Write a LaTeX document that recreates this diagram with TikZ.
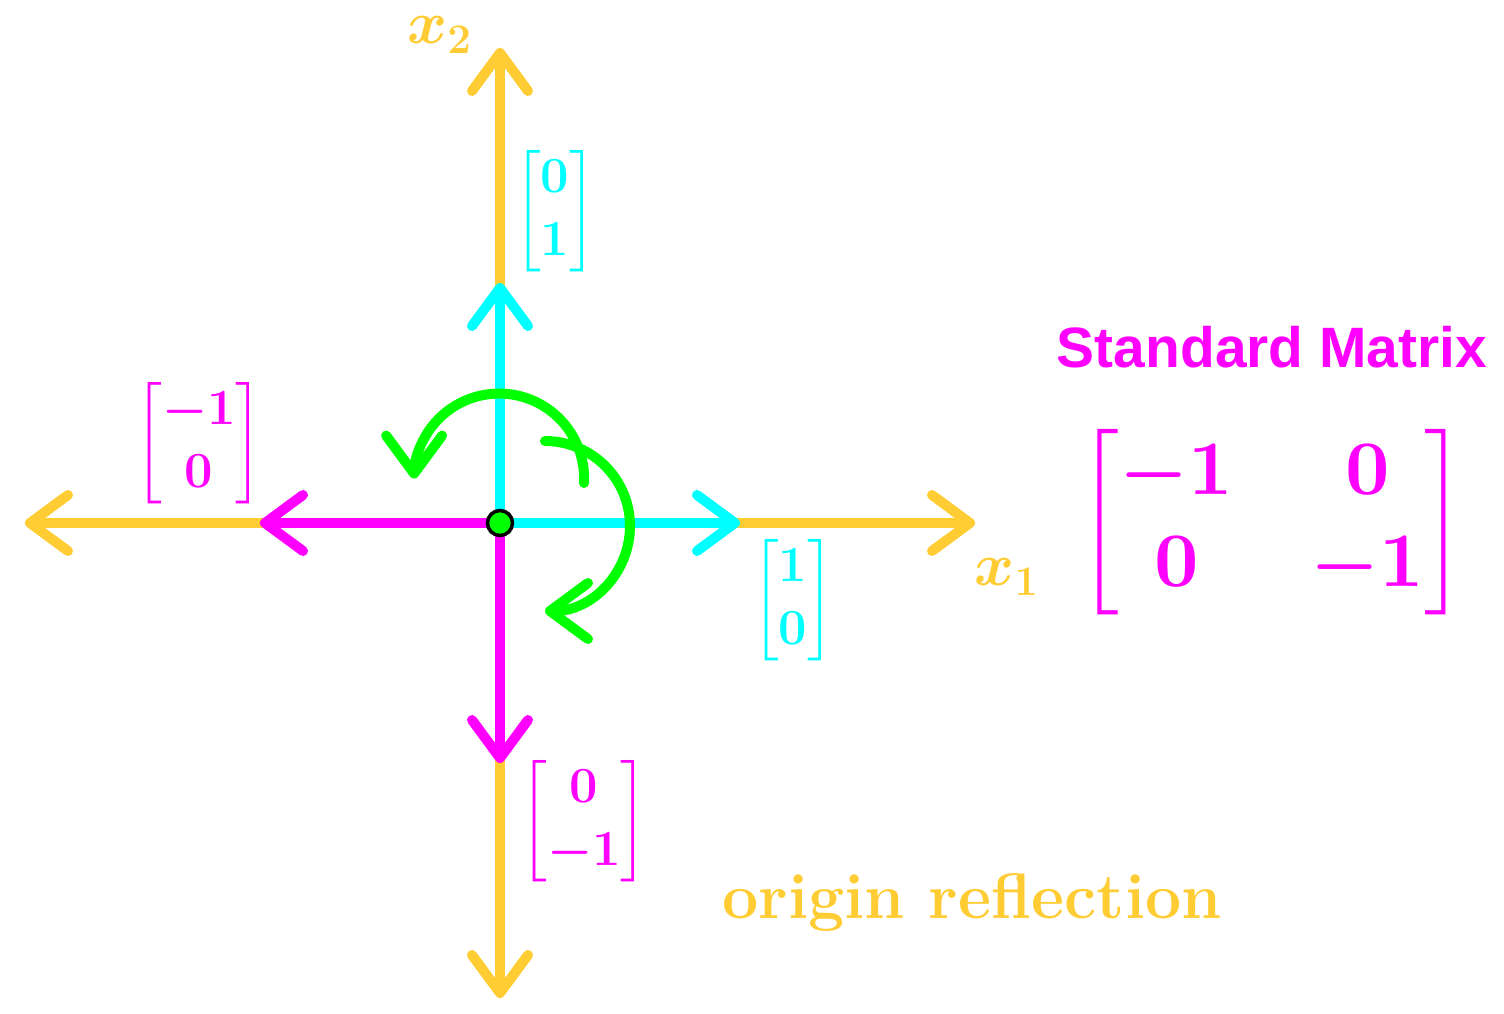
\RequirePackage{fix-cm}
\documentclass[tikz,border=0pt]{standalone}
\usepackage{amsmath}
\usepackage{graphicx}
\usepackage{fontspec}
\newfontfamily\headfont{Liberation Sans}
\usetikzlibrary{arrows.meta}

\definecolor{axisyellow}{RGB}{255,204,51}
\definecolor{vcyan}{RGB}{0,255,255}
\definecolor{vmagenta}{RGB}{255,0,255}
\definecolor{vgreen}{RGB}{0,255,0}

\begin{document}
\begin{tikzpicture}[
    >={Straight Barb[length=3.8mm,width=5.6mm,round]},
    axisline/.style={line width=0.1cm, axisyellow, <->, line cap=round},
    vec/.style={line width=0.1cm, ->, line cap=round},
    greenarc/.style={line width=0.1cm, vgreen, ->, line cap=round},
    lbl/.style={font=\Large\boldmath, inner sep=0pt},
  ]
    \useasboundingbox (-5,-4.9) rectangle (10.04,5.23);

    % Points on the axes
    \coordinate (O)  at (0,0);
    \coordinate (xl) at (-4.75,0);
    \coordinate (xr) at (4.75,0);
    \coordinate (yb) at (0,-4.75);
    \coordinate (yt) at (0,4.75);
    \coordinate (e1) at (2.4,0);
    \coordinate (e2) at (0,2.4);
    \coordinate (f1) at (-2.4,0);
    \coordinate (f2) at (0,-2.4);

    % --- Axes ---
    \draw[axisline] (xl) -- (xr);
    \draw[axisline] (yb) -- (yt);
    \node[axisyellow, font=\LARGE\boldmath] (x1) at (5.07,-0.54) {$x_1$};
    \node[axisyellow, font=\LARGE\boldmath] (x2) at (-0.60,4.88) {$x_2$};

    % --- Basis vectors (cyan) and their images (magenta) ---
    \draw[vec, vcyan]    (O) -- (e1);
    \draw[vec, vcyan]    (O) -- (e2);
    \draw[vec, vmagenta] (O) -- (f1);
    \draw[vec, vmagenta] (O) -- (f2);

    \node[lbl, vcyan]    (v1) at (2.93,-0.77) {$\begin{bmatrix}1\\0\end{bmatrix}$};
    \node[lbl, vcyan]    (v2) at (0.55,3.12)  {$\begin{bmatrix}0\\1\end{bmatrix}$};
    \node[lbl, vmagenta] (w1) at (-3.01,0.80) {$\begin{bmatrix}-1\\0\end{bmatrix}$};
    \node[lbl, vmagenta] (w2) at (0.84,-2.98) {$\begin{bmatrix}0\\-1\end{bmatrix}$};

    % --- Turning arrows ---
    \draw[greenarc] (0.84,0.40) arc[start angle=-3, end angle=180, radius=0.85];
    \draw[greenarc] (0.45,0.82) arc[start angle=90, end angle=-90, radius=0.85];

    % Origin
    \node[circle, fill=vgreen, draw=black, line width=1pt,
          minimum size=0.25cm, inner sep=0pt] (dot) at (O) {};

    % --- Standard matrix ---
    \node[vmagenta, inner sep=0pt, font=\fontsize{16.2}{19}\headfont\bfseries] (title) at (7.72,1.76) {Standard Matrix};
    \node[vmagenta, inner sep=0pt, font=\boldmath] (A) at (7.72,0.01)
      {\scalebox{2.2}{$\begin{bmatrix}-1&0\\0&-1\end{bmatrix}$}};

    \node[axisyellow, font=\fontsize{18.3}{21}\selectfont\bfseries] (name) at (4.72,-3.79) {origin reflection};

\end{tikzpicture}
\end{document}
